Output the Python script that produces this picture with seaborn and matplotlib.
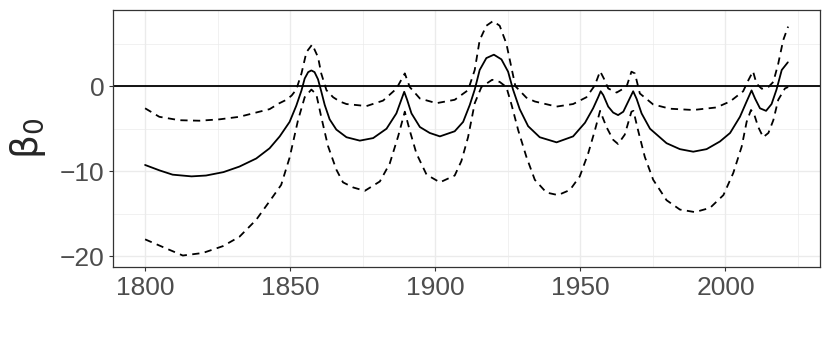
import numpy as np
import pandas as pd
import matplotlib
matplotlib.use('Agg')
import matplotlib.pyplot as plt
from matplotlib.ticker import MultipleLocator
import seaborn as sns

# beta_0 estimate (solid line)
yr_est = [1800, 1805, 1809.5, 1816, 1821, 1827, 1832.5, 1838.3, 1842.9, 1846.4,
          1849.8, 1852.1, 1853.9, 1855, 1856.2, 1857.3, 1858.4, 1859.6, 1860.7, 1861.9,
          1863.6, 1865.9, 1869.4, 1874, 1878.6, 1883.2, 1886.6, 1888.3, 1889.3, 1890.3,
          1891.8, 1894.7, 1898.1, 1901.6, 1906.7, 1909.6, 1911.9, 1913.6, 1915.3, 1917.6,
          1920.2, 1922.8, 1925.1, 1926.8, 1929.1, 1932, 1936, 1941.8, 1947.5, 1951.6,
          1954.4, 1956.2, 1957, 1957.9, 1959.6, 1961.3, 1963, 1964.8, 1966.5, 1968.2,
          1969.4, 1971.1, 1974, 1979.7, 1984.3, 1988.9, 1993.5, 1998.1, 2001.6, 2005,
          2007.3, 2009, 2010.2, 2011.9, 2014, 2015.9, 2017.6, 2019.4, 2021.5]
est = [-9.26, -9.9, -10.4, -10.6, -10.5, -10.1, -9.45, -8.5, -7.3, -5.9,
       -4.2, -2.3, -0.5, 0.9, 1.65, 1.85, 1.65, 0.8, -0.6, -2.2,
       -3.9, -5.1, -6.0, -6.4, -6.1, -5.0, -3.2, -1.6, -0.66, -1.6,
       -3.2, -4.8, -5.5, -5.9, -5.3, -4.2, -2.2, -0.4, 1.9, 3.3,
       3.7, 3.15, 1.7, -0.4, -2.7, -4.7, -6.0, -6.6, -5.9, -4.3,
       -2.6, -1.25, -0.6, -1.05, -2.4, -3.1, -3.4, -3.0, -1.8, -0.6,
       -1.5, -3.2, -5.0, -6.7, -7.4, -7.7, -7.4, -6.5, -5.5, -3.6,
       -1.8, -0.5, -1.45, -2.6, -2.9, -2.1, -0.4, 1.9, 2.8]

# upper band (dashed)
yr_hi = [1800, 1804.9, 1811.8, 1818.7, 1825.6, 1832.5, 1839.4, 1842.9, 1846.3, 1848.7,
         1850.5, 1852.1, 1853.9, 1855.6, 1857.6, 1859.6, 1860.7, 1862.5, 1864.8, 1867.1,
         1869.4, 1876.3, 1882, 1886.6, 1889.5, 1891.2, 1894.7, 1900.4, 1906.7, 1911.3,
         1913.6, 1915.3, 1917.6, 1919.9, 1922.2, 1924.5, 1926.3, 1927.6, 1931.4, 1934.3,
         1941.8, 1947.5, 1952.1, 1955, 1956.8, 1958.1, 1959.6, 1962.5, 1965.9, 1967.6,
         1968.8, 1970.5, 1975.1, 1980.9, 1988.9, 1996.9, 2001.6, 2006.1, 2007.9, 2009.5,
         2010.7, 2012.5, 2014.8, 2016.5, 2018.2, 2019.9, 2021.6]
hi = [-2.6, -3.6, -4.0, -4.06, -3.9, -3.6, -3.0, -2.7, -2.0, -1.6,
      -1.1, -0.4, 1.5, 4.0, 4.9, 3.4, 1.5, -0.47, -1.3, -1.8,
      -2.1, -2.34, -1.7, -0.3, 1.5, -0.1, -1.45, -2.0, -1.6, -0.47,
      1.9, 5.4, 7.1, 7.65, 7.1, 5.0, 2.1, 0.0, -1.35, -1.8,
      -2.4, -2.1, -1.3, 0.1, 1.75, 0.9, -0.27, -0.75, -0.08, 1.7,
      1.5, -0.86, -2.15, -2.65, -2.8, -2.5, -1.8, -0.6, 0.7, 1.75,
      0.3, -0.3, -0.1, 0.5, 2.65, 5.4, 7.0]

# lower band (dashed)
yr_lo = [1800, 1806.1, 1813, 1819.9, 1826.8, 1832.5, 1838.3, 1844, 1846.9, 1849.8,
         1852.7, 1855, 1857.3, 1859, 1860.7, 1863, 1865.9, 1868.2, 1871.7, 1875.7,
         1880.9, 1884.3, 1887.2, 1889.5, 1891.2, 1893.5, 1897, 1901.6, 1906.7, 1909,
         1911.3, 1913.6, 1915.9, 1919.6, 1922.2, 1924.5, 1926.3, 1928.6, 1931.4, 1934.3,
         1938.3, 1942.3, 1946.4, 1949.8, 1952.7, 1955, 1956.8, 1959, 1961.3, 1963,
         1965.3, 1967.6, 1968.3, 1969.9, 1972.2, 1975.1, 1979.7, 1984.3, 1989.5, 1994.7,
         1999.3, 2002.7, 2005.6, 2007.3, 2008.8, 2009.8, 2011.3, 2013, 2014.8, 2016.5,
         2018.2, 2020.5, 2021.6]
lo = [-18.0, -18.9, -19.9, -19.6, -18.8, -17.7, -15.7, -13.0, -11.6, -8.4,
      -4.0, -1.3, -0.4, -0.95, -3.6, -7.0, -9.8, -11.3, -11.9, -12.3,
      -11.2, -9.1, -5.9, -3.0, -5.2, -7.9, -10.4, -11.3, -10.5, -8.8,
      -6.0, -2.0, -0.1, 0.75, 0.5, -0.1, -2.2, -5.2, -8.3, -11.0,
      -12.5, -12.8, -12.2, -10.6, -7.9, -5.2, -2.9, -4.8, -6.3, -6.8,
      -5.7, -3.0, -2.9, -5.2, -8.3, -11.0, -13.4, -14.5, -14.8, -14.3,
      -12.8, -10.2, -7.1, -4.2, -2.8, -3.2, -4.8, -6.0, -5.5, -4.0,
      -1.6, -0.27, -0.1]

df = pd.concat([
    pd.DataFrame({'year': yr_est, 'beta': est, 'series': 'est'}),
    pd.DataFrame({'year': yr_hi, 'beta': hi, 'series': 'upper'}),
    pd.DataFrame({'year': yr_lo, 'beta': lo, 'series': 'lower'}),
], ignore_index=True)

sns.set_style('white')
plt.rcParams['font.family'] = ['Liberation Sans', 'DejaVu Sans']

fig = plt.figure(figsize=(8.3, 3.51), dpi=100)
ax = fig.add_axes([0.136, 0.2393, 0.852, 0.7322])

ax.axhline(0, color='black', lw=1.3, zorder=2)
sns.lineplot(data=df, x='year', y='beta', style='series', units='series',
             estimator=None, sort=False, color='black', linewidth=1.3,
             dashes={'est': '', 'upper': (4, 3), 'lower': (4, 3)},
             legend=False, ax=ax, zorder=3)

ax.set_xlim(1788.9, 2032.6)
ax.set_ylim(-21.25, 8.95)
ax.xaxis.set_major_locator(MultipleLocator(50))
ax.xaxis.set_minor_locator(MultipleLocator(25))
ax.yaxis.set_minor_locator(MultipleLocator(5))
ax.grid(which='major', color='#EBEBEB', lw=1.0, zorder=0)
ax.grid(which='minor', color='#EBEBEB', lw=0.5, zorder=0)
ax.set_axisbelow(True)

for s in ax.spines.values():
    s.set_color('#333333')
    s.set_linewidth(0.9)

ax.tick_params(which='major', length=3.2, width=0.8, color='#333333',
               labelsize=19, labelcolor='#4D4D4D', pad=3, bottom=True, left=True)
ax.tick_params(which='minor', length=0, bottom=False, left=False)
ax.set_yticks([-20, -10, 0])
ax.set_yticklabels(['\u221220', '\u221210', '0'])

ax.set_xlabel('')
ax.set_ylabel(r'$\mathrm{\beta}_0$', fontsize=27, labelpad=8)

fig.savefig('out.png', dpi=100)
